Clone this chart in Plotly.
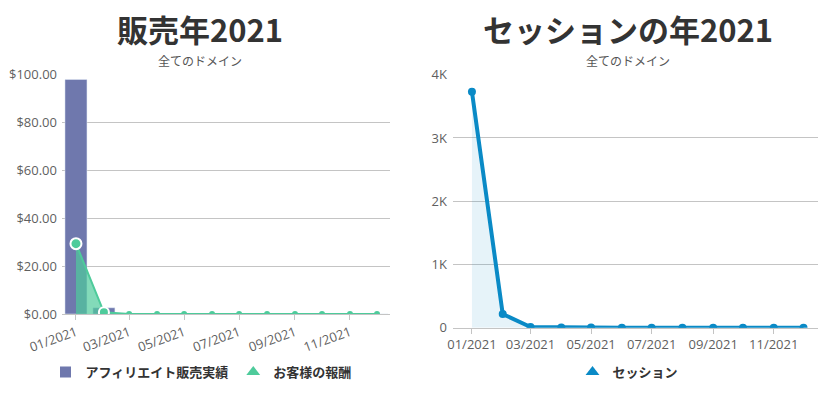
import plotly.graph_objects as go

months = ["2021-01-01", "2021-02-01", "2021-03-01", "2021-04-01", "2021-05-01", "2021-06-01",
          "2021-07-01", "2021-08-01", "2021-09-01", "2021-10-01", "2021-11-01", "2021-12-01"]
affiliate_sales = [98.0, 2.6, 0, 0, 0, 0, 0, 0, 0, 0, 0, 0]
customer_reward = [29.4, 0.7, 0, 0, 0, 0, 0, 0, 0, 0, 0, 0]
sessions = [3730, 216, 12, 4, 2, 1, 0, 0, 0, 0, 0, 0]

left_title = "販売年2021"
right_title = "セッションの年2021"
subtitle = "全てのドメイン"
name_sales = "アフィリエイト販売実績"
name_reward = "お客様の報酬"
name_sessions = "セッション"

BAR = "#6f78ad"
GREEN = "#4ecb9b"
BLUE = "#0a8ac6"
GRID = "#c4c4c4"
TICK = "#5f5f5f"
CJK = "Noto Sans CJK JP"
DAY = 86400000

fig = go.Figure()

fig.add_trace(go.Bar(x=months, y=affiliate_sales, name=name_sales, marker_color=BAR,
                     width=24.4 * DAY, xaxis="x", yaxis="y", showlegend=False))
reward_sizes = [11, 10] + [6] * 10
reward_lw = [2, 2] + [0] * 10
fig.add_trace(go.Scatter(x=months, y=customer_reward, name=name_reward, mode="lines+markers",
                         line=dict(color=GREEN, width=2), fill="tozeroy",
                         fillcolor="rgba(78,203,155,0.7)",
                         marker=dict(color=GREEN, size=reward_sizes, opacity=1,
                                     line=dict(color="white", width=reward_lw)),
                         xaxis="x", yaxis="y", showlegend=False))
fig.add_trace(go.Scatter(x=months, y=sessions, name=name_sessions, mode="lines+markers",
                         line=dict(color=BLUE, width=4), fill="tozeroy",
                         fillcolor="rgba(10,138,198,0.1)",
                         marker=dict(color=BLUE, size=8),
                         xaxis="x2", yaxis="y2", showlegend=False))

# legend entries
fig.add_trace(go.Scatter(x=[None], y=[None], mode="markers", name=name_sales,
                         marker=dict(symbol="square", color=BAR, size=11),
                         xaxis="x", yaxis="y", legend="legend"))
fig.add_trace(go.Scatter(x=[None], y=[None], mode="markers", name=name_reward,
                         marker=dict(symbol="triangle-up", color=GREEN, size=12),
                         xaxis="x", yaxis="y", legend="legend"))
fig.add_trace(go.Scatter(x=[None], y=[None], mode="markers", name=name_sessions,
                         marker=dict(symbol="triangle-up", color=BLUE, size=12),
                         xaxis="x2", yaxis="y2", legend="legend2"))

tickfont = dict(family="Open Sans", size=13, color=TICK)
xcommon = dict(type="date", dtick="M2", tick0="2021-01-01", tickformat="%m/%Y",
               showgrid=False, showline=True, linecolor=GRID, ticks="outside",
               ticklen=5, tickcolor=GRID, tickfont=tickfont, zeroline=False,
               automargin=False)
legfont = dict(family=CJK, size=13, color="#333333", weight="bold")
fig.update_layout(
    width=825, height=400, margin=dict(l=0, r=0, t=0, b=0, autoexpand=False),
    paper_bgcolor="white", plot_bgcolor="white",
    barmode="overlay",
    xaxis=dict(domain=[62 / 825, 390 / 825], anchor="y",
               range=["2020-12-16 12:00", "2021-12-15 10:00"], tickangle=-20, **xcommon),
    yaxis=dict(domain=[1 - 314 / 400, 1 - 74.7 / 400], anchor="x", range=[0, 100],
               dtick=20, tickprefix="$", tickformat=".2f", showgrid=True, gridcolor=GRID,
               zeroline=False, tickfont=tickfont, ticks="", ticklabelstandoff=4,
               automargin=False),
    xaxis2=dict(domain=[453 / 825, 818 / 825], anchor="y2",
                range=["2020-12-12 22:00", "2021-12-15 14:00"], tickangle=0, **xcommon),
    yaxis2=dict(domain=[1 - 327.7 / 400, 1 - 74.7 / 400], anchor="x2", range=[0, 4000],
                tickvals=[0, 1000, 2000, 3000, 4000], ticktext=["0", "1K", "2K", "3K", "4K"],
                showgrid=True, gridcolor=GRID, zeroline=False, tickfont=tickfont, ticks="",
                ticklabelstandoff=5, automargin=False),
    legend=dict(orientation="h", x=201 / 825, y=1 - 372 / 400, xanchor="center", yanchor="middle",
                font=legfont, itemwidth=30),
    legend2=dict(orientation="h", x=628 / 825, y=1 - 372 / 400, xanchor="center", yanchor="middle",
                 font=legfont, itemwidth=30),
)

for cx, title in [(200, left_title), (628, right_title)]:
    fig.add_annotation(x=cx / 825, y=1 - 28 / 400, xref="paper", yref="paper", text=title,
                       showarrow=False, xanchor="center", yanchor="middle",
                       font=dict(family=CJK, size=31, color="#333333", weight="bold"))
    fig.add_annotation(x=cx / 825, y=1 - 60 / 400, xref="paper", yref="paper", text=subtitle,
                       showarrow=False, xanchor="center", yanchor="middle",
                       font=dict(family=CJK, size=12, color="#555555"))

fig.write_html("out.html")
